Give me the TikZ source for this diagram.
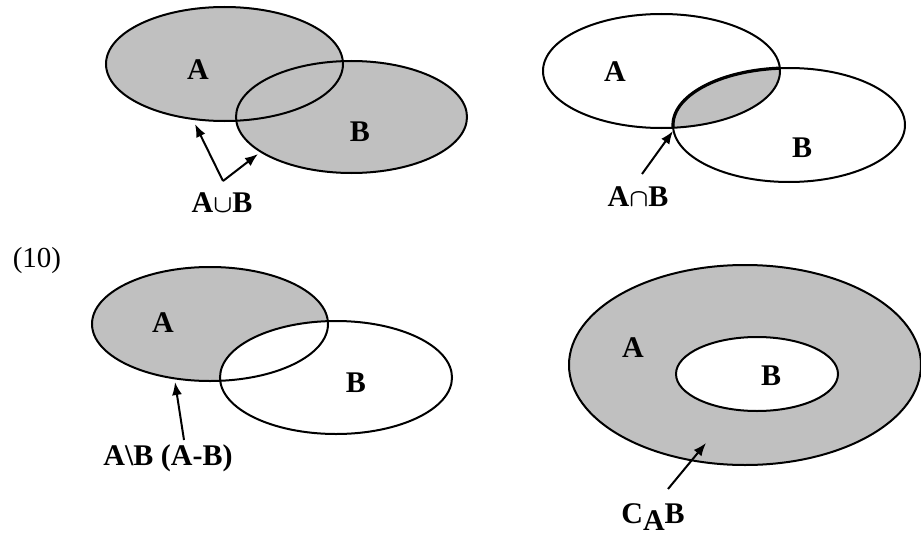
\documentclass[tikz,border=0pt]{standalone}
\usepackage{fontspec}
\setmainfont{Liberation Serif}
\usetikzlibrary{arrows.meta}
\definecolor{vennfill}{RGB}{192,192,192}
\begin{document}
\begin{tikzpicture}[x=1pt,y=-1pt,
  outline/.style={line width=2pt},
  lbl/.style={font=\fontsize{30}{32}\selectfont\bfseries\boldmath, inner sep=0pt},
  arr/.style={line width=2pt,-{Latex[length=13pt,width=10pt]}}]
\useasboundingbox (0,0) rectangle (921,535);
% ---------- top left: union ----------
\fill[vennfill] (224.5,64) ellipse [x radius=118.5pt, y radius=57pt];
\fill[vennfill] (351.5,117) ellipse [x radius=115.5pt, y radius=56pt];
\draw[outline] (224.5,64) ellipse [x radius=118.5pt, y radius=57pt];
\draw[outline] (351.5,117) ellipse [x radius=115.5pt, y radius=56pt];
\node[lbl] (tlA) at (198,70) {A};
\node[lbl] (tlB) at (360,132) {B};
\node[lbl] (union) at (222,203) {A$\cup$B};
\coordinate (u0) at (223,181);
\coordinate (u1) at (195,124);
\coordinate (u2) at (258,154);
\draw[arr] (u0) -- (u1);
\draw[arr] (u0) -- (u2);
% ---------- top right: intersection ----------
\begin{scope}
\clip (661.5,71) ellipse [x radius=118.5pt, y radius=57pt];
\fill[vennfill] (789,125) ellipse [x radius=116pt, y radius=57pt];
\draw[line width=3.2pt] (789,125) ellipse [x radius=116pt, y radius=57pt];
\end{scope}
\draw[outline] (661.5,71) ellipse [x radius=118.5pt, y radius=57pt];
\draw[outline] (789,125) ellipse [x radius=116pt, y radius=57pt];
\node[lbl] (trA) at (615,72) {A};
\node[lbl] (trB) at (802,148) {B};
\node[lbl] (inter) at (638,197) {A$\cap$B};
\coordinate (i0) at (642,174);
\coordinate (i1) at (673,131);
\draw[arr] (i0) -- (i1);
% ---------- label (10) ----------
\node[font=\fontsize{29}{31}\selectfont, inner sep=0pt] (num) at (37,261) {(10)};
% ---------- bottom left: difference ----------
\fill[vennfill] (210,324) ellipse [x radius=118pt, y radius=57pt];
\fill[white] (336,377.5) ellipse [x radius=116pt, y radius=56.5pt];
\draw[outline] (210,324) ellipse [x radius=118pt, y radius=57pt];
\draw[outline] (336,377.5) ellipse [x radius=116pt, y radius=56.5pt];
\node[lbl] (blA) at (163,323) {A};
\node[lbl] (blB) at (356,383) {B};
\node[lbl] (diff) at (168,458) {A\textbackslash B (A-B)};
\coordinate (d0) at (184,440);
\coordinate (d1) at (175,382);
\draw[arr] (d0) -- (d1);
% ---------- bottom right: complement ----------
\fill[vennfill] (745,365) ellipse [x radius=176pt, y radius=100pt];
\draw[outline] (745,365) ellipse [x radius=176pt, y radius=100pt];
\fill[white] (757,374) ellipse [x radius=81pt, y radius=37pt];
\draw[outline] (757,374) ellipse [x radius=81pt, y radius=37pt];
\node[lbl] (brA) at (633,348) {A};
\node[lbl] (brB) at (771,376) {B};
\node[lbl] (comp) at (653,517) {C\raisebox{-0.45ex}{A}B};
\coordinate (c0) at (668,489);
\coordinate (c1) at (706,443);
\draw[arr] (c0) -- (c1);
\end{tikzpicture}
\end{document}
